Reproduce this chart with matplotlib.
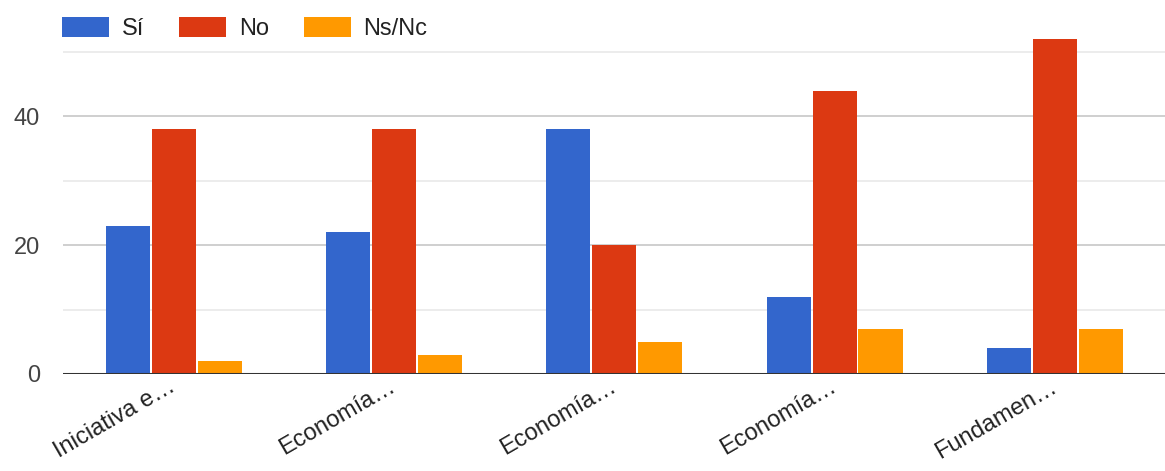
#! /usr/bin/env python3

import numpy as np
import matplotlib
matplotlib.use('Agg')
import matplotlib.pyplot as plt

plt.rcParams['font.family'] = ['Liberation Sans', 'DejaVu Sans']

# data
categories = ['Iniciativa e…', 'Economía…', 'Economía…', 'Economía…', 'Fundamen…']
series_names = ['Sí', 'No', 'Ns/Nc']
si = [23, 22, 38, 12, 4]
no = [38, 38, 20, 44, 52]
nsnc = [2, 3, 5, 7, 7]
colors = ['#3366cc', '#dc3912', '#ff9900']

fig = plt.figure(figsize=(11.65, 4.71), dpi=100)
ax = fig.add_axes([0.0545, 0.206, 0.9455, 0.752])

x = np.arange(len(categories))
width = 0.2
step = 0.2085
for i, (vals, name) in enumerate(zip((si, no, nsnc), series_names)):
    ax.bar(x + (i - 1) * step, vals, width, color=colors[i], label=name, zorder=3)

ax.set_xlim(-0.5, len(categories) - 0.5)
ax.set_ylim(0, 55)

# gridlines: major 0/20/40, lighter ones in between
ax.set_yticks([0, 20, 40])
ax.set_yticks([10, 30, 50], minor=True)
ax.grid(axis='y', which='major', color='#cccccc', linewidth=1.3, zorder=0)
ax.grid(axis='y', which='minor', color='#ebebeb', linewidth=1.3, zorder=0)
ax.axhline(0, color='#333333', linewidth=2.2, zorder=4)

for s in ax.spines.values():
    s.set_visible(False)
ax.tick_params(axis='y', which='both', length=0, pad=17, labelsize=17, labelcolor='#444444')
ax.tick_params(axis='x', length=0, pad=8)
ax.set_xticks(x)
ax.set_xticklabels(categories, rotation=30, ha='right', va='center',
                   rotation_mode='anchor', fontsize=17, color='#222222')

fig.legend(loc='upper left', bbox_to_anchor=(0.039, 1.0), ncol=3, frameon=False,
           fontsize=17, handlelength=2.0, handleheight=0.96, handletextpad=0.52,
           columnspacing=1.5, labelcolor='#222222', borderaxespad=0.3)

plt.savefig('out.png', dpi=100)
